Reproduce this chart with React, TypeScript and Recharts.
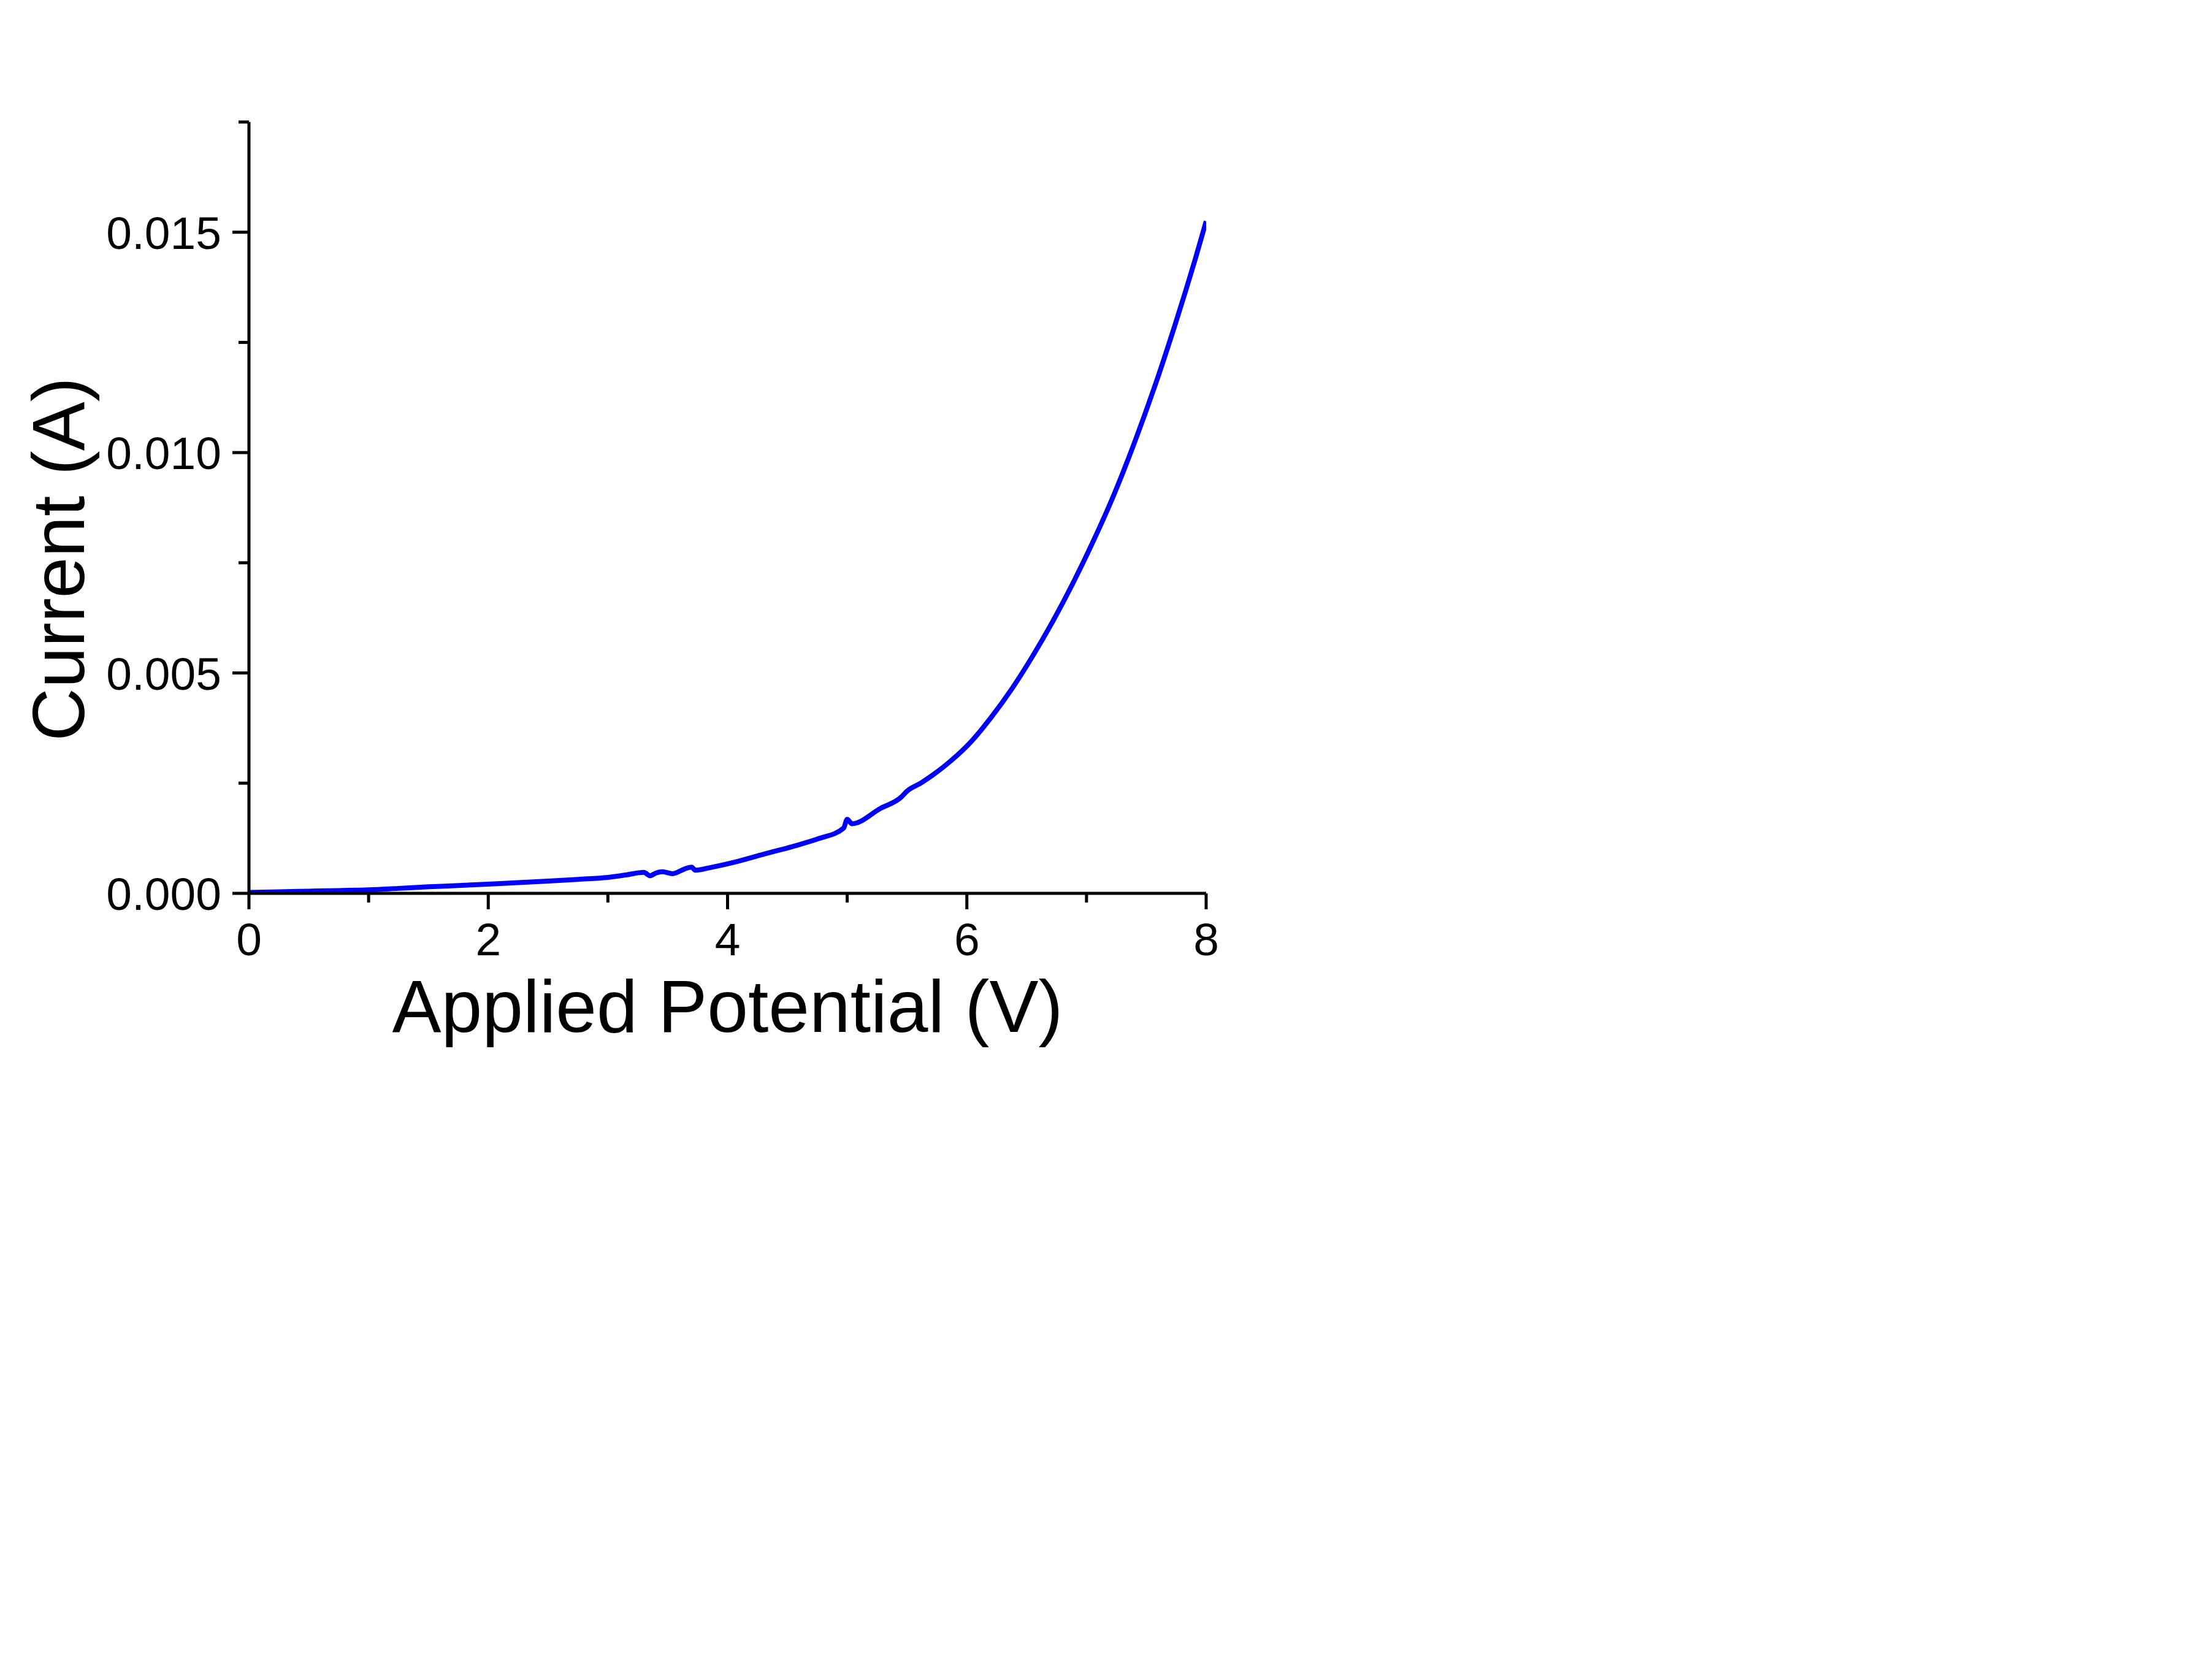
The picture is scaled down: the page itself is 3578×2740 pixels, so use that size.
import React from "react";
import { LineChart, Line, XAxis, YAxis } from "recharts";

const potential = [
  0, 0.25, 0.5, 0.75, 1.0, 1.25, 1.5, 1.75, 2.0, 2.25, 2.5, 2.75, 3.0, 3.15,
  3.3, 3.354, 3.4, 3.456, 3.54, 3.64, 3.7, 3.73, 3.87, 4.08, 4.33, 4.54, 4.76,
  4.97, 5.0, 5.04, 5.28, 5.45, 5.5, 5.62, 5.864, 6.035, 6.205, 6.376, 6.547,
  6.718, 6.889, 7.06, 7.23, 7.4, 7.57, 7.74, 7.83, 7.91, 8.0,
];
const current = [
  0.00002, 0.000035, 0.00005, 0.000064, 0.000079, 0.000113, 0.000148,
  0.000178, 0.000209, 0.000243, 0.000278, 0.000318, 0.000362, 0.000417,
  0.000477, 0.000399, 0.00046, 0.000491, 0.000445, 0.000552, 0.000594,
  0.000524, 0.000594, 0.000723, 0.000909, 0.00106, 0.00124, 0.00148, 0.00168,
  0.00158, 0.00193, 0.00218, 0.00232, 0.00251, 0.003, 0.00344, 0.004,
  0.00464, 0.00537, 0.00617, 0.00705, 0.00801, 0.00905, 0.01022, 0.0115,
  0.0129, 0.01368, 0.0144, 0.01525,
];

const xTicks = [0, 1, 2, 3, 4, 5, 6, 7, 8];
const xMajor = [0, 2, 4, 6, 8];
const yTicks = [0, 0.0025, 0.005, 0.0075, 0.01, 0.0125, 0.015, 0.0175];
const yMajor = [0, 0.005, 0.01, 0.015];

const data = potential.map((v, i) => ({ v, i: current[i] }));

const FONT = '"Liberation Sans", Arial, Helvetica, sans-serif';
const AXIS_W = 5;

const isMajor = (list: number[], val: number) =>
  list.some((m) => Math.abs(m - val) < 1e-9);

function YTick(props: any) {
  const { x, y, payload } = props;
  const major = isMajor(yMajor, payload.value);
  return (
    <g>
      <line
        x1={x}
        x2={x - (major ? 27 : 17)}
        y1={y}
        y2={y}
        stroke="#000"
        strokeWidth={AXIS_W}
      />
      {major && (
        <text
          x={x - 45}
          y={y}
          dy="0.36em"
          textAnchor="end"
          fontFamily={FONT}
          fontSize={75}
          fill="#000"
        >
          {payload.value.toFixed(3)}
        </text>
      )}
    </g>
  );
}

function XTick(props: any) {
  const { x, y, payload } = props;
  const major = isMajor(xMajor, payload.value);
  return (
    <g>
      <line
        x1={x}
        x2={x}
        y1={y}
        y2={y + (major ? 26 : 15)}
        stroke="#000"
        strokeWidth={AXIS_W}
      />
      {major && (
        <text
          x={x}
          y={y + 101}
          textAnchor="middle"
          fontFamily={FONT}
          fontSize={75}
          fill="#000"
        >
          {payload.value}
        </text>
      )}
    </g>
  );
}

function XTitle(props: any) {
  const { x, y, width } = props.viewBox;
  return (
    <text
      x={x + width / 2}
      y={y + 226}
      textAnchor="middle"
      fontFamily={FONT}
      fontSize={120}
      fill="#000"
    >
      Applied Potential (V)
    </text>
  );
}

function YTitle(props: any) {
  const { x, y, height } = props.viewBox;
  const cx = x + 31;
  const cy = y + height / 2 + 84;
  return (
    <text
      x={cx}
      y={cy}
      transform={`rotate(-90, ${cx}, ${cy})`}
      textAnchor="middle"
      fontFamily={FONT}
      fontSize={120}
      fill="#000"
    >
      Current (A)
    </text>
  );
}

export default function App() {
  return (
    <div
      style={{
        position: "absolute",
        left: 0,
        top: 0,
        width: 3578,
        height: 2740,
        background: "#fff",
      }}
    >
      <LineChart
        width={3578}
        height={2740}
        data={data}
        margin={{ top: 199, right: 1611, left: 106, bottom: 1083 }}
      >
        <XAxis
          dataKey="v"
          type="number"
          domain={[0, 8]}
          ticks={xTicks}
          interval={0}
          height={200}
          tickSize={0}
          tickMargin={0}
          tickLine={false}
          axisLine={{ stroke: "#000", strokeWidth: AXIS_W }}
          tick={<XTick />}
          label={(p: any) => <XTitle {...p} />}
          allowDataOverflow
        />
        <YAxis
          dataKey="i"
          type="number"
          domain={[0, 0.0175]}
          ticks={yTicks}
          interval={0}
          width={300}
          tickSize={0}
          tickMargin={0}
          tickLine={false}
          axisLine={{ stroke: "#000", strokeWidth: AXIS_W }}
          tick={<YTick />}
          label={(p: any) => <YTitle {...p} />}
          allowDataOverflow
        />
        <Line
          type="monotone"
          dataKey="i"
          stroke="#0000FF"
          strokeWidth={8}
          dot={false}
          isAnimationActive={false}
        />
      </LineChart>
    </div>
  );
}
